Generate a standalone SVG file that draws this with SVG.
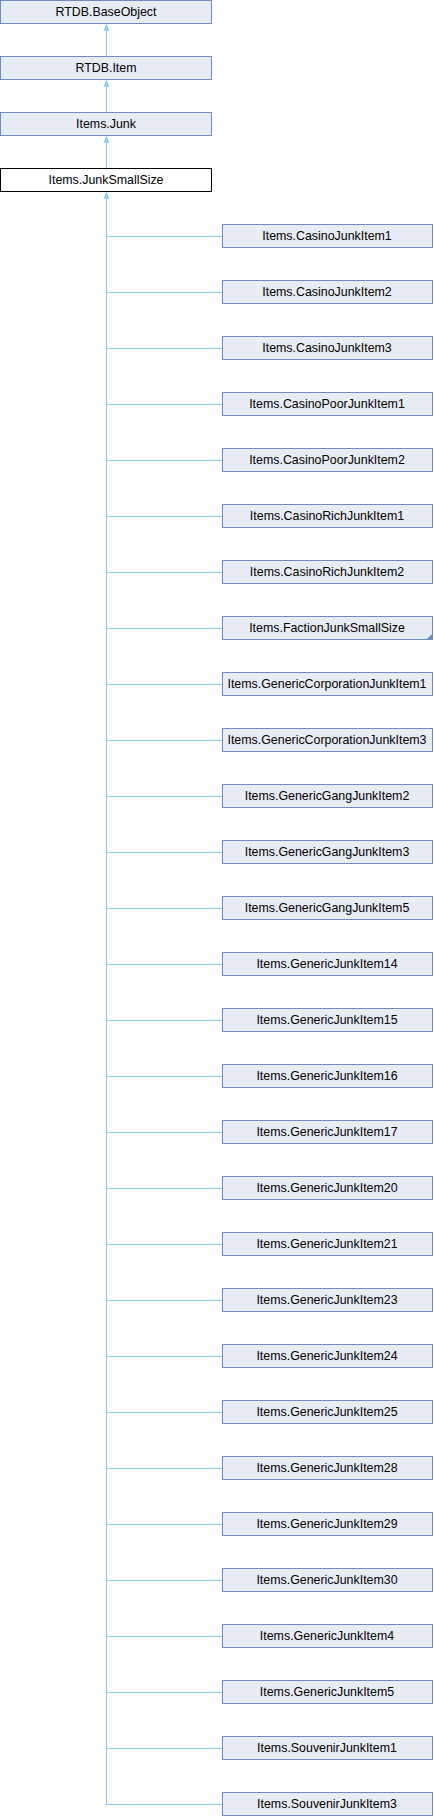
<svg xmlns="http://www.w3.org/2000/svg" width="434" height="1816" viewBox="0 0 434 1816">
<style>
.n rect{fill:#E8ECF5;stroke:#6F8AC4;stroke-width:1}
.n.hl rect{fill:#FFFFFF;stroke:#000000}
.n text{font-family:"Liberation Sans",Arial,sans-serif;font-size:12.4px;fill:#000;text-anchor:middle}
.e{stroke:#8FCBE9;stroke-width:1;fill:none}
.fold{fill:#6F8AC4}
</style>
<defs>
<marker id="a" markerUnits="userSpaceOnUse" markerWidth="8" markerHeight="8" viewBox="0 0 8 8" refX="7" refY="4" orient="auto">
<path d="M1,1.5 L7,4 L1,6.5 Z" fill="#8FCBE9" stroke="#8FCBE9" stroke-width="0.5"/>
</marker>
</defs>
<g id="edges">
<path class="e" d="M106.5,56.5 V24.5" marker-end="url(#a)"/>
<path class="e" d="M106.5,112.5 V80.5" marker-end="url(#a)"/>
<path class="e" d="M106.5,168.5 V136.5" marker-end="url(#a)"/>
<path class="e" d="M106.5,1804.5 V192.5" marker-end="url(#a)"/>
<path class="e" d="M106.5,236.5 H222 M106.5,292.5 H222 M106.5,348.5 H222 M106.5,404.5 H222 M106.5,460.5 H222 M106.5,516.5 H222 M106.5,572.5 H222 M106.5,628.5 H222 M106.5,684.5 H222 M106.5,740.5 H222 M106.5,796.5 H222 M106.5,852.5 H222 M106.5,908.5 H222 M106.5,964.5 H222 M106.5,1020.5 H222 M106.5,1076.5 H222 M106.5,1132.5 H222 M106.5,1188.5 H222 M106.5,1244.5 H222 M106.5,1300.5 H222 M106.5,1356.5 H222 M106.5,1412.5 H222 M106.5,1468.5 H222 M106.5,1524.5 H222 M106.5,1580.5 H222 M106.5,1636.5 H222 M106.5,1692.5 H222 M106.5,1748.5 H222 M106,1804.5 H222"/>
</g>
<g id="n_baseobject" class="n"><rect x="0.5" y="0.5" width="211" height="23"/><text x="106" y="16">RTDB.BaseObject</text></g>
<g id="n_item" class="n"><rect x="0.5" y="56.5" width="211" height="23"/><text x="106" y="72">RTDB.Item</text></g>
<g id="n_junk" class="n"><rect x="0.5" y="112.5" width="211" height="23"/><text x="106" y="128">Items.Junk</text></g>
<g id="n_junksmallsize" class="n hl"><rect x="0.5" y="168.5" width="211" height="23"/><text x="106" y="184">Items.JunkSmallSize</text></g>
<g id="c1" class="n"><rect x="222.5" y="224.5" width="210" height="23"/><text x="327" y="240">Items.CasinoJunkItem1</text></g>
<g id="c2" class="n"><rect x="222.5" y="280.5" width="210" height="23"/><text x="327" y="296">Items.CasinoJunkItem2</text></g>
<g id="c3" class="n"><rect x="222.5" y="336.5" width="210" height="23"/><text x="327" y="352">Items.CasinoJunkItem3</text></g>
<g id="c4" class="n"><rect x="222.5" y="392.5" width="210" height="23"/><text x="327" y="408">Items.CasinoPoorJunkItem1</text></g>
<g id="c5" class="n"><rect x="222.5" y="448.5" width="210" height="23"/><text x="327" y="464">Items.CasinoPoorJunkItem2</text></g>
<g id="c6" class="n"><rect x="222.5" y="504.5" width="210" height="23"/><text x="327" y="520">Items.CasinoRichJunkItem1</text></g>
<g id="c7" class="n"><rect x="222.5" y="560.5" width="210" height="23"/><text x="327" y="576">Items.CasinoRichJunkItem2</text></g>
<g id="c8" class="n"><rect x="222.5" y="616.5" width="210" height="23"/><text x="327" y="632">Items.FactionJunkSmallSize</text><path class="fold" d="M433,633 V640 H426 Z"/></g>
<g id="c9" class="n"><rect x="222.5" y="672.5" width="210" height="23"/><text x="327" y="688">Items.GenericCorporationJunkItem1</text></g>
<g id="c10" class="n"><rect x="222.5" y="728.5" width="210" height="23"/><text x="327" y="744">Items.GenericCorporationJunkItem3</text></g>
<g id="c11" class="n"><rect x="222.5" y="784.5" width="210" height="23"/><text x="327" y="800">Items.GenericGangJunkItem2</text></g>
<g id="c12" class="n"><rect x="222.5" y="840.5" width="210" height="23"/><text x="327" y="856">Items.GenericGangJunkItem3</text></g>
<g id="c13" class="n"><rect x="222.5" y="896.5" width="210" height="23"/><text x="327" y="912">Items.GenericGangJunkItem5</text></g>
<g id="c14" class="n"><rect x="222.5" y="952.5" width="210" height="23"/><text x="327" y="968">Items.GenericJunkItem14</text></g>
<g id="c15" class="n"><rect x="222.5" y="1008.5" width="210" height="23"/><text x="327" y="1024">Items.GenericJunkItem15</text></g>
<g id="c16" class="n"><rect x="222.5" y="1064.5" width="210" height="23"/><text x="327" y="1080">Items.GenericJunkItem16</text></g>
<g id="c17" class="n"><rect x="222.5" y="1120.5" width="210" height="23"/><text x="327" y="1136">Items.GenericJunkItem17</text></g>
<g id="c18" class="n"><rect x="222.5" y="1176.5" width="210" height="23"/><text x="327" y="1192">Items.GenericJunkItem20</text></g>
<g id="c19" class="n"><rect x="222.5" y="1232.5" width="210" height="23"/><text x="327" y="1248">Items.GenericJunkItem21</text></g>
<g id="c20" class="n"><rect x="222.5" y="1288.5" width="210" height="23"/><text x="327" y="1304">Items.GenericJunkItem23</text></g>
<g id="c21" class="n"><rect x="222.5" y="1344.5" width="210" height="23"/><text x="327" y="1360">Items.GenericJunkItem24</text></g>
<g id="c22" class="n"><rect x="222.5" y="1400.5" width="210" height="23"/><text x="327" y="1416">Items.GenericJunkItem25</text></g>
<g id="c23" class="n"><rect x="222.5" y="1456.5" width="210" height="23"/><text x="327" y="1472">Items.GenericJunkItem28</text></g>
<g id="c24" class="n"><rect x="222.5" y="1512.5" width="210" height="23"/><text x="327" y="1528">Items.GenericJunkItem29</text></g>
<g id="c25" class="n"><rect x="222.5" y="1568.5" width="210" height="23"/><text x="327" y="1584">Items.GenericJunkItem30</text></g>
<g id="c26" class="n"><rect x="222.5" y="1624.5" width="210" height="23"/><text x="327" y="1640">Items.GenericJunkItem4</text></g>
<g id="c27" class="n"><rect x="222.5" y="1680.5" width="210" height="23"/><text x="327" y="1696">Items.GenericJunkItem5</text></g>
<g id="c28" class="n"><rect x="222.5" y="1736.5" width="210" height="23"/><text x="327" y="1752">Items.SouvenirJunkItem1</text></g>
<g id="c29" class="n"><rect x="222.5" y="1792.5" width="210" height="23"/><text x="327" y="1808">Items.SouvenirJunkItem3</text></g>
</svg>
